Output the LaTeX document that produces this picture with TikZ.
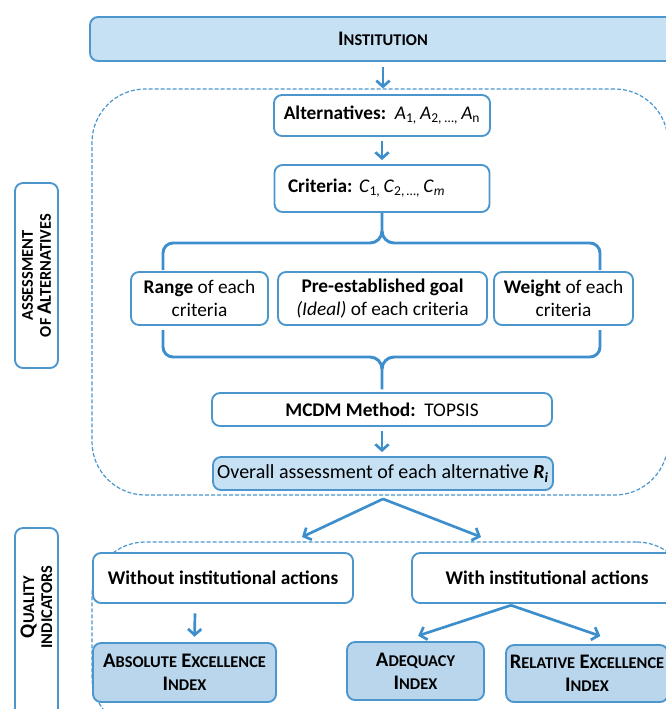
\documentclass[tikz,border=0pt]{standalone}
\usepackage{fontspec}
\setmainfont{Carlito}
\usetikzlibrary{arrows.meta}

\definecolor{rand}{RGB}{74,150,205}
\definecolor{hell}{RGB}{198,224,244}
\definecolor{indexblau}{RGB}{185,214,236}
\definecolor{pfeilblau}{RGB}{60,142,204}

% unechte Kapitaelchen
\newcommand{\kap}[2]{{\fontsize{15.5}{18}\selectfont #1}{\fontsize{12.3}{18}\selectfont #2}}

\tikzset{
  box/.style={draw=rand, line width=1.4pt, rounded corners=6pt, fill=white, align=center, inner sep=2pt},
  hellbox/.style={box, fill=hell},
  indexbox/.style={box, fill=indexblau, font=\bfseries\fontsize{14.5}{17.5}\selectfont},
  seite/.style={align=center, inner sep=0pt, rotate=90, font=\bfseries\fontsize{12}{13.5}\selectfont},
  bereich/.style={draw=rand, line width=0.9pt, dash pattern=on 3pt off 1.5pt, rounded corners=40pt},
  pfeil/.style={draw=pfeilblau, line width=2pt, -{Straight Barb[length=4.5pt,width=10pt]}},
  klammer/.style={draw=pfeilblau, line width=2.2pt}
}

\begin{document}
\begin{tikzpicture}[x=0.75pt, y=-0.75pt, font=\fontsize{14.5}{17}\selectfont]
    \useasboundingbox (0,0) rectangle (666,709);
    \clip (0,0) rectangle (666,709);

    % Institution oben
    \node[hellbox, minimum width=439.5pt, minimum height=33pt] (inst) at (383,39) {\textbf{\kap{I}{NSTITUTION}}};

    % gestrichelte Bereiche
    \node[bereich, minimum width=432pt, minimum height=304.5pt] (bewertung) at (380,292) {};
    \node[bereich, minimum width=448.5pt, minimum height=141pt] (indikatoren) at (391,636) {};

    % Seitenbeschriftungen
    \node[box, seite, minimum width=138.75pt, minimum height=32.25pt] (seite1) at (36.5,275.5) {\kap{}{ASSESSMENT}\\\kap{}{OF} \kap{A}{LTERNATIVES}};
    \draw[box] (15,528) rectangle (58,740);
    \node[seite] (seite2) at (36.5,607) {\kap{Q}{UALITY}\\\kap{}{INDICATORS}};

    % Alternativen und Kriterien
    \node[box, minimum width=162pt, minimum height=30.75pt] (alt) at (382,115.5) {\textbf{Alternatives:}~~\textit{A}\textsubscript{1,}\,\textit{A}\textsubscript{2, \dots,}\,\textit{A}\textsubscript{n}};
    \node[box, minimum width=161.25pt, minimum height=35.25pt, text width=141pt, align=left] (crit) at (382,188.5) {\textbf{Criteria:}~\textit{C}\textsubscript{1,}\,\textit{C}\textsubscript{2,\,\dots,}\,\textit{C}\textsubscript{\textit{m}}};

    % die drei Kriterienangaben
    \node[box, minimum width=102.75pt, minimum height=39.75pt] (range) at (199.5,298.5) {\textbf{Range} of each\\criteria};
    \node[box, minimum width=156.75pt, minimum height=39.75pt] (goal) at (382.5,298.5) {\textbf{Pre-established goal}\\\textit{(Ideal)} of each criteria};
    \node[box, minimum width=104.25pt, minimum height=39.75pt] (weight) at (563.5,298.5) {\textbf{Weight} of each\\criteria};

    % Methode und Ergebnis
    \node[box, minimum width=255pt, minimum height=24.75pt] (mcdm) at (382,409.5) {\textbf{MCDM Method:}~~TOPSIS};
    \node[hellbox, minimum width=255pt, minimum height=24.75pt, font=\fontsize{15}{17}\selectfont] (overall) at (383,473.5) {Overall assessment of each alternative \textbf{\textit{R\textsubscript{i}}}};

    % Indikatoren
    \node[box, minimum width=195pt, minimum height=37.5pt] (ohne) at (223,578) {\textbf{Without institutional actions}};
    \node[box, minimum width=202.5pt, minimum height=37.5pt] (mit) at (547,578) {\textbf{With institutional actions}};
    \node[indexbox, minimum width=137.25pt, minimum height=44.25pt] (abs) at (184.5,672.5) {\kap{A}{BSOLUTE} \kap{E}{XCELLENCE}\\\kap{I}{NDEX}};
    \node[indexbox, minimum width=102.75pt, minimum height=43.5pt] (adeq) at (415.5,671) {\kap{A}{DEQUACY}\\\kap{I}{NDEX}};
    \node[indexbox, minimum width=121.5pt, minimum height=42.75pt] (rel) at (587,673.5) {\kap{R}{ELATIVE} \kap{E}{XCELLENCE}\\\kap{I}{NDEX}};

    % Klammern
    \draw[klammer] (163,270) -- (163,253) to[out=90,in=180] (173,243) -- (370,243) to[out=0,in=-90] (382,231) -- (crit.south);
    \draw[klammer] (600,270) -- (600,253) to[out=90,in=0] (590,243) -- (394,243) to[out=180,in=-90] (382,231);
    \draw[klammer] (163,330) -- (163,347) to[out=-90,in=180] (173,357) -- (370,357) to[out=0,in=90] (382,369) -- ([yshift=2pt]mcdm.north);
    \draw[klammer] (600,330) -- (600,347) to[out=-90,in=0] (590,357) -- (394,357) to[out=180,in=90] (382,369);

    % Pfeile
    \draw[pfeil, shorten <=4pt] (inst.south) -- (inst.south |- bewertung.north);
    \draw[pfeil, shorten <=3pt, shorten >=3pt] (alt.south) -- (alt.south |- crit.north);
    \draw[pfeil, shorten <=3pt, shorten >=3pt] (mcdm.south) -- (mcdm.south |- overall.north);
    \coordinate (links) at (302,537);
    \coordinate (rechts) at (481,537);
    \draw[pfeil] ([yshift=-6pt]overall.south) -- (links);
    \draw[pfeil] ([yshift=-6pt]overall.south) -- (rechts);
    \draw[pfeil] ([xshift=-21pt,yshift=-7pt]ohne.south) -- ([xshift=7.5pt,yshift=4pt]abs.north);
    \draw[pfeil] ([xshift=-27pt,yshift=-1pt]mit.south) -- ([xshift=2pt,yshift=4pt]adeq.north);
    \draw[pfeil] ([xshift=-27pt,yshift=-1pt]mit.south) -- ([xshift=10pt,yshift=6pt]rel.north);
\end{tikzpicture}
\end{document}
